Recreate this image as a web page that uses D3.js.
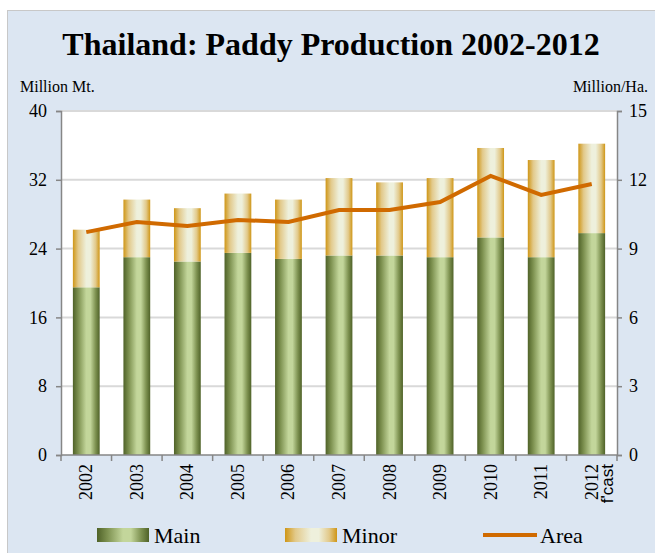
<!DOCTYPE html>
<html>
<head>
<meta charset="utf-8">
<script src="https://cdn.jsdelivr.net/npm/d3@7"></script>
<style>
  body { margin: 0; background: #fff; }
  text { font-family: "Liberation Serif", "Times New Roman", serif; fill: #000; }
</style>
</head>
<body>
<div id="chart"></div>
<script>
// data
const years = ["2002", "2003", "2004", "2005", "2006", "2007", "2008", "2009", "2010", "2011", "2012"];
const mainCrop = [19.5, 23.0, 22.5, 23.5, 22.8, 23.2, 23.2, 23.0, 25.3, 23.0, 25.8];
const minorCrop = [6.7, 6.7, 6.2, 6.9, 6.9, 9.0, 8.5, 9.2, 10.4, 11.3, 10.4];
const area = [9.72, 10.16, 9.99, 10.25, 10.16, 10.68, 10.68, 11.03, 12.17, 11.34, 11.82];
const leftTicks = [0, 8, 16, 24, 32, 40];
const rightTicks = [0, 3, 6, 9, 12, 15];

const W = 655, H = 553;
const m = { left: 61, right: 617, top: 111, bottom: 455 };
const axisGrey = "#868686";
const serif = "'Liberation Serif', 'Times New Roman', serif";

const svg = d3.select("#chart").append("svg")
  .attr("width", W)
  .attr("height", H);

const defs = svg.append("defs");
// horizontal shading on the bars
function grad(id, stops) {
  const g = defs.append("linearGradient").attr("id", id)
    .attr("x1", 0).attr("x2", 1).attr("y1", 0).attr("y2", 0);
  stops.forEach(s => g.append("stop").attr("offset", s[0]).attr("stop-color", s[1]));
}
grad("gMain", [[0, "#4f6228"], [0.2, "#7d9150"], [0.5, "#c3d69b"], [0.65, "#c3d69b"], [0.85, "#7d9150"], [1, "#4f6228"]]);
grad("gMinor", [[0, "#cf9616"], [0.2, "#e2c98a"], [0.5, "#eef0dc"], [0.65, "#eef0dc"], [0.85, "#e2c98a"], [1, "#cf9616"]]);

// outer panel
svg.append("rect")
  .attr("x", 7.5).attr("y", 10.5)
  .attr("width", W - 7).attr("height", H - 10)
  .attr("fill", "#dce6f2")
  .attr("stroke", "#c8c8c8");

svg.append("rect")
  .attr("x", m.left).attr("y", m.top)
  .attr("width", m.right - m.left).attr("height", m.bottom - m.top)
  .attr("fill", "#fff");

svg.append("text")
  .attr("x", 331).attr("y", 55)
  .attr("text-anchor", "middle")
  .style("font-size", "32px")
  .style("font-weight", "bold")
  .text("Thailand: Paddy Production 2002-2012");

svg.append("text").attr("x", 20).attr("y", 92).style("font-size", "16px").text("Million Mt.");
svg.append("text").attr("x", 648).attr("y", 92).attr("text-anchor", "end").style("font-size", "16px").text("Million/Ha.");

const x = d3.scaleBand().domain(years).range([m.left, m.right]).paddingInner(0.47).paddingOuter(0.235);
const y = d3.scaleLinear().domain([0, 40]).range([m.bottom, m.top]);
const y2 = d3.scaleLinear().domain([0, 15]).range([m.bottom, m.top]);

// gridlines
svg.append("g")
  .selectAll("line")
  .data(leftTicks.slice(1))
  .join("line")
  .attr("x1", m.left).attr("x2", m.right)
  .attr("y1", d => y(d)).attr("y2", d => y(d))
  .attr("stroke", "#d9d9d9")
  .attr("stroke-width", 2);

// stacked bars
const bars = svg.append("g");
bars.selectAll(".main")
  .data(years)
  .join("rect")
  .attr("class", "main")
  .attr("x", d => x(d))
  .attr("width", x.bandwidth())
  .attr("y", (d, i) => y(mainCrop[i]))
  .attr("height", (d, i) => y(0) - y(mainCrop[i]))
  .attr("fill", "url(#gMain)");
bars.selectAll(".minor")
  .data(years)
  .join("rect")
  .attr("class", "minor")
  .attr("x", d => x(d))
  .attr("width", x.bandwidth())
  .attr("y", (d, i) => y(mainCrop[i] + minorCrop[i]))
  .attr("height", (d, i) => y(mainCrop[i]) - y(mainCrop[i] + minorCrop[i]))
  .attr("fill", "url(#gMinor)");

// area line on right scale
const line = d3.line()
  .x((d, i) => x(years[i]) + x.bandwidth() / 2)
  .y(d => y2(d));
svg.append("path")
  .datum(area)
  .attr("d", line)
  .attr("fill", "none")
  .attr("stroke", "#d06a00")
  .attr("stroke-width", 4);

// axes
const yAxis = svg.append("g")
  .attr("transform", `translate(${m.left},0)`)
  .call(d3.axisLeft(y).tickValues(leftTicks).tickSize(5).tickPadding(9));
const yAxis2 = svg.append("g")
  .attr("transform", `translate(${m.right},0)`)
  .call(d3.axisRight(y2).tickValues(rightTicks).tickSize(5).tickPadding(7));
[yAxis, yAxis2].forEach(g => {
  g.attr("font-family", serif);
  g.selectAll("path, line").attr("stroke", axisGrey).attr("stroke-width", 1.5);
  g.selectAll("text").style("font-size", "18px").style("font-family", serif).attr("fill", "#000");
});

const xAxis = svg.append("g").attr("transform", `translate(0,${m.bottom})`);
xAxis.append("line")
  .attr("x1", m.left).attr("x2", m.right)
  .attr("stroke", axisGrey).attr("stroke-width", 1.5);
xAxis.selectAll(".tick")
  .data(d3.range(years.length + 1))
  .join("line")
  .attr("x1", i => m.left + i * x.step()).attr("x2", i => m.left + i * x.step())
  .attr("y1", 0).attr("y2", 6)
  .attr("stroke", axisGrey).attr("stroke-width", 1.5);
xAxis.selectAll(".yr")
  .data(years)
  .join("text")
  .attr("class", "yr")
  .attr("transform", d => `translate(${x(d) + x.bandwidth() / 2 + 6},9) rotate(-90)`)
  .attr("text-anchor", "end")
  .style("font-size", "18px")
  .text(d => d);
xAxis.append("text")
  .attr("transform", `translate(${x("2012") + x.bandwidth() / 2 + 21},9) rotate(-90)`)
  .attr("text-anchor", "end")
  .style("font-size", "17px")
  .style("font-family", "'Liberation Sans', Arial, sans-serif")
  .text("f'cast");

// legend
const legend = svg.append("g").attr("transform", "translate(0,535)");
const items = [
  { label: "Main", x: 97, fill: "url(#gMain)" },
  { label: "Minor", x: 285, fill: "url(#gMinor)" },
  { label: "Area", x: 483, line: true }
];
items.forEach(it => {
  if (it.line) {
    legend.append("line")
      .attr("x1", it.x).attr("x2", it.x + 54)
      .attr("stroke", "#d06a00").attr("stroke-width", 4);
  } else {
    legend.append("rect")
      .attr("x", it.x).attr("y", -7)
      .attr("width", 52).attr("height", 14)
      .attr("fill", it.fill);
  }
  legend.append("text")
    .attr("x", it.x + 57).attr("y", 8)
    .style("font-size", "22px")
    .text(it.label);
});
</script>
</body>
</html>
